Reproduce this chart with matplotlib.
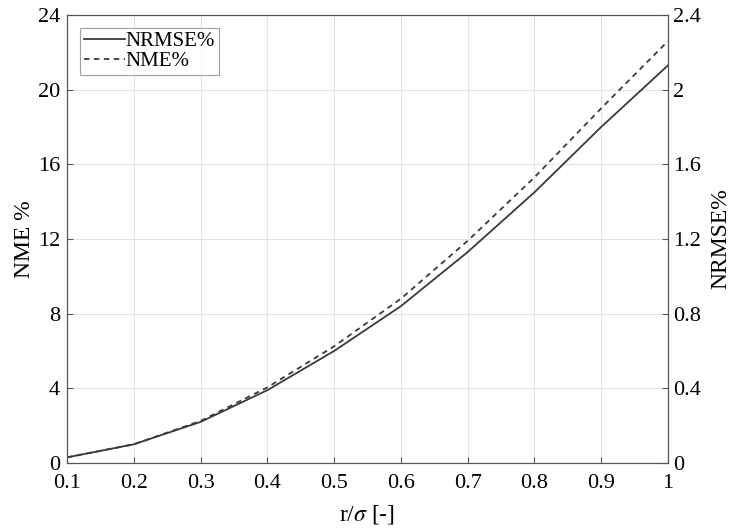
import numpy as np
import matplotlib.pyplot as plt

plt.rcParams['font.family'] = ['Liberation Serif', 'DejaVu Serif']
plt.rcParams['mathtext.fontset'] = 'stix'

r_sigma = [0.1, 0.2, 0.3, 0.4, 0.5, 0.6, 0.7, 0.8, 0.9, 1.0]
nrmse = [0.03, 0.10, 0.22, 0.39, 0.60, 0.84, 1.13, 1.45, 1.80, 2.13]
nme = [0.3, 1.0, 2.25, 4.05, 6.25, 8.8, 11.9, 15.3, 19.0, 22.6]

fig = plt.figure(figsize=(7.31, 5.29), dpi=100)
ax = fig.add_axes([0.0917, 0.1248, 0.822, 0.8468])
ax2 = ax.twinx()

line_col = '#3a3a3a'
l1, = ax2.plot(r_sigma, nrmse, '-', color=line_col, lw=1.3, label='NRMSE%')
l2, = ax.plot(r_sigma, nme, '--', color=line_col, lw=1.3, dashes=(3, 2.5), label='NME%')

ax.set_xlim(0.1, 1)
ax.set_ylim(0, 24)
ax2.set_ylim(0, 2.4)
ax.set_xticks(np.arange(0.1, 1.01, 0.1))
ax.set_xticklabels(['0.1', '0.2', '0.3', '0.4', '0.5', '0.6', '0.7', '0.8', '0.9', '1'])
ax.set_yticks(np.arange(0, 25, 4))
ax2.set_yticks(np.arange(0, 2.41, 0.4))
ax2.set_yticklabels(['0', '0.4', '0.8', '1.2', '1.6', '2', '2.4'])

ax.grid(True, color='#e3e3e3', lw=0.8)
ax.set_axisbelow(True)
for a in (ax, ax2):
    a.tick_params(labelsize=16, direction='in', length=4, color='#555555', width=0.8)
    for s in a.spines.values():
        s.set_color('#555555')
        s.set_linewidth(0.8)
ax.tick_params(axis='x', pad=8)
ax.tick_params(axis='y', pad=5)

ax.set_xlabel(r'r/$\sigma$ [-]', fontsize=17, labelpad=7)
ax.set_ylabel('NME %', fontsize=17, labelpad=2)
ax2.set_ylabel('NRMSE%', fontsize=17, labelpad=7)

leg = ax.legend([l1, l2], ['NRMSE%', 'NME%'], loc='upper left', fontsize=15,
                fancybox=False, edgecolor='#888888', handlelength=2.0,
                handletextpad=0.0, borderpad=0.2, labelspacing=0.0,
                borderaxespad=0.6)
leg.get_frame().set_linewidth(0.8)

plt.savefig('out.png', dpi=100)
